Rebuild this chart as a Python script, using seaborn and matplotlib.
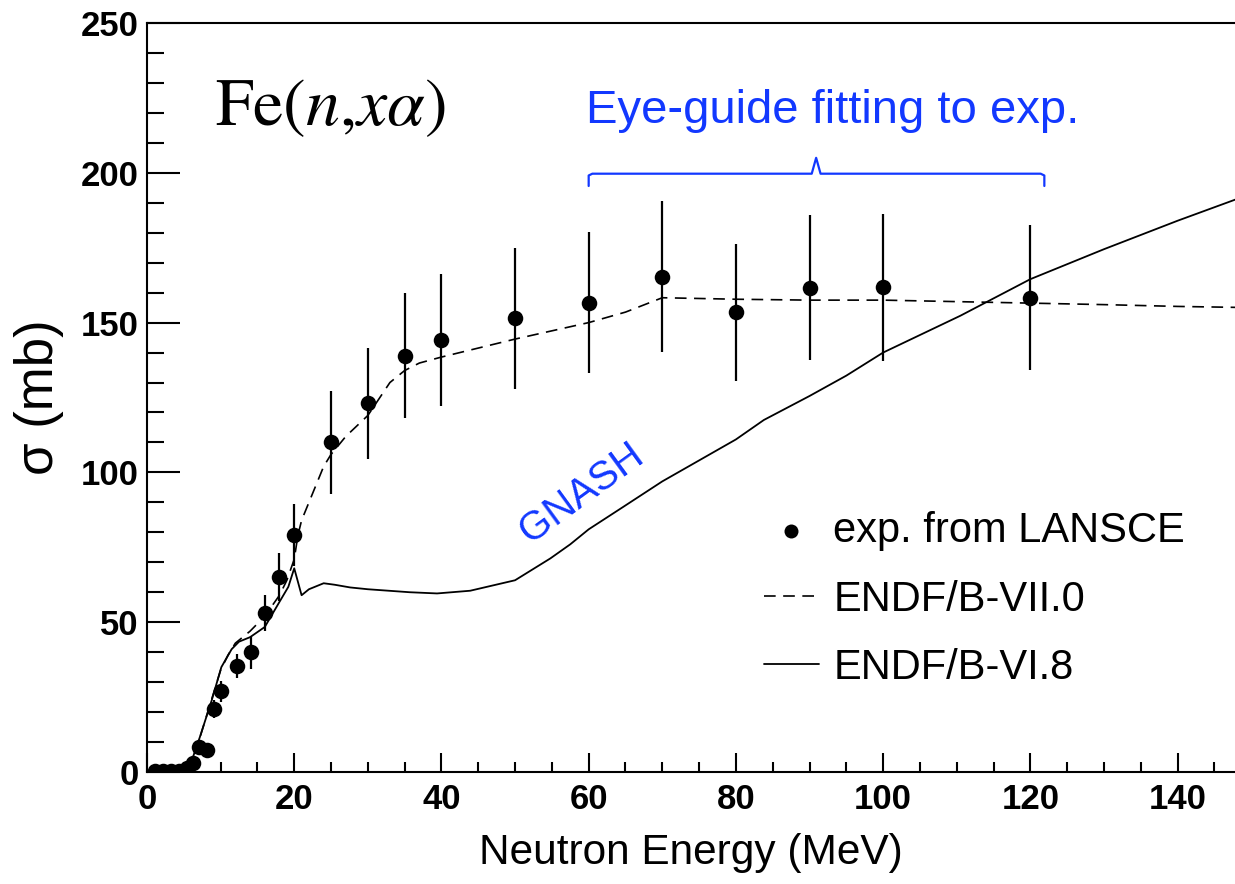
import numpy as np
import pandas as pd
import matplotlib
matplotlib.use("Agg")
import matplotlib.pyplot as plt
from matplotlib.ticker import MultipleLocator
import seaborn as sns

# experimental points (LANSCE)
exp_e = [1.1, 2.2, 3.3, 4.4, 5.4, 6.3, 7.1, 8.2, 9.1, 10.1, 12.2, 14.1, 16.0, 17.9, 20.0,
         25, 30, 35, 40, 50, 60, 70, 80, 90, 100, 120]
exp_xs = [0.2, 0.2, 0.2, 0.3, 1.5, 3.0, 8.4, 7.3, 21.0, 27.0, 35.3, 40.0, 53.0, 65.0, 79.0,
          110.0, 123.0, 139.0, 144.2, 151.5, 156.6, 165.3, 153.4, 161.7, 161.8, 158.3]
exp_err = [0, 0, 0, 0, 0.5, 1.0, 1.5, 1.5, 3.0, 3.5, 4.0, 5.5, 6.0, 8.0, 10.4,
           17.3, 18.5, 20.8, 22.0, 23.5, 23.5, 25.2, 23.0, 24.2, 24.6, 24.2]

# ENDF/B-VII.0 (dashed)
e7_e = [0, 5, 6, 7, 8, 9, 10, 11, 12, 14, 15, 16, 17, 18, 19, 20, 20.5, 21, 22, 23, 24, 25,
        27, 30, 33, 35, 37, 40, 50, 60, 65, 70, 80, 90, 100, 110, 120, 130, 140, 150]
e7_xs = [0, 0.3, 3, 10, 18, 26, 34, 39, 43, 47, 49.5, 52, 55.5, 59, 64, 71, 79, 84, 90, 96, 102, 106,
         112, 119, 130, 134, 136.5, 138.5, 144.5, 150, 153.5, 158.3, 157.8, 157.5, 157.5, 157,
         156.5, 156, 155.4, 155]

# ENDF/B-VI.8 (solid)
e6_e = [0, 5, 5.8, 7.2, 8.8, 10.1, 11.5, 12.5, 14, 16, 18, 19.2, 20, 21, 22, 24, 25.5, 27.6, 30,
        35.7, 39.4, 43.9, 50, 54.8, 57.5, 60, 64.7, 70, 75, 80, 83.8, 90, 95, 100, 110.5, 120,
        130, 140, 150]
e6_xs = [0, 0.2, 1.8, 11.8, 24, 35, 41, 43.5, 45, 48.4, 56.8, 61.8, 68, 59, 61, 63, 62.5, 61.6, 61,
         60, 59.6, 60.5, 64, 71.3, 76, 81, 88.5, 97, 104, 111, 117.5, 125.5, 132.3, 140, 152.3,
         164.5, 174.5, 184, 193]

labels = ["exp. from LANSCE", "ENDF/B-VII.0", "ENDF/B-VI.8"]
blue = "#1238ff"

sns.set_style("ticks")
plt.rcParams["font.family"] = ["Liberation Sans", "DejaVu Sans"]
plt.rcParams["mathtext.fontset"] = "stix"
for key in ["text.color", "axes.labelcolor", "xtick.color", "ytick.color", "axes.edgecolor"]:
    plt.rcParams[key] = "black"

fig = plt.figure(figsize=(12.35, 8.84), dpi=100)
ax = fig.add_axes([147 / 1235, 112 / 884, 1088 / 1235, 749 / 884])

df7 = pd.DataFrame({"E": e7_e, "xs": e7_xs})
df6 = pd.DataFrame({"E": e6_e, "xs": e6_xs})
dfx = pd.DataFrame({"E": exp_e, "xs": exp_xs, "err": exp_err})

ax.errorbar(dfx["E"], dfx["xs"], yerr=dfx["err"], fmt="none", ecolor="black", elinewidth=1.6, capsize=0)
sns.lineplot(data=df7, x="E", y="xs", ax=ax, color="black", lw=1.2, sort=False,
             estimator=None, label=labels[1], dashes=False, linestyle=(0, (7, 4.5)))
sns.lineplot(data=df6, x="E", y="xs", ax=ax, color="black", lw=1.3, sort=False,
             estimator=None, label=labels[2])
sns.scatterplot(data=dfx, x="E", y="xs", ax=ax, color="black", s=125, linewidth=0,
                label=labels[0], zorder=5)

ax.set_xlim(0, 147.8)
ax.set_ylim(0, 250)
ax.xaxis.set_major_locator(MultipleLocator(20))
ax.xaxis.set_minor_locator(MultipleLocator(5))
ax.yaxis.set_major_locator(MultipleLocator(50))
ax.yaxis.set_minor_locator(MultipleLocator(10))
ax.tick_params(which="both", direction="in", top=False, right=False, width=1.5, colors="black")
ax.tick_params(axis="y", which="major", length=24, pad=6)
ax.tick_params(axis="y", which="minor", length=12)
ax.tick_params(axis="x", which="major", length=14, pad=8)
ax.tick_params(axis="x", which="minor", length=7)
for lab in ax.get_xticklabels() + ax.get_yticklabels():
    lab.set_fontsize(25)
    lab.set_fontweight("bold")
for side in ["left", "bottom", "top"]:
    ax.spines[side].set_linewidth(1.5)
    ax.spines[side].set_color("black")
ax.spines["right"].set_visible(False)

ax.set_xlabel("Neutron Energy (MeV)", fontsize=30.5, labelpad=12)
ax.set_ylabel("σ (mb)", fontsize=38, labelpad=12)

# annotations
ax.text(9.2, 216, r"$\mathrm{Fe}(n{,}x\alpha)$", fontsize=49, ha="left", va="baseline")
ax.text(93.2, 216.5, "Eye-guide fitting to exp.", fontsize=34, color=blue, ha="center", va="baseline")
ax.text(59, 93, "GNASH", fontsize=29, color=blue, rotation=36, ha="center", va="center",
        rotation_mode="anchor")

brace_l, brace_r, brace_c = 60, 121.9, 90.9
brace_y, brace_lo, brace_hi = 199.7, 195.6, 205.0
ax.plot([brace_l, brace_l, brace_l + 0.5, brace_c - 0.6, brace_c, brace_c + 0.6, brace_r - 0.5, brace_r, brace_r],
        [brace_lo, brace_y - 0.6, brace_y, brace_y, brace_hi, brace_y, brace_y, brace_y - 0.6, brace_lo],
        color=blue, lw=1.6, solid_joinstyle="round")

h, l = ax.get_legend_handles_labels()
order = [l.index(s) for s in labels]
ax.legend([h[i] for i in order], [l[i] for i in order], loc="upper left",
          bbox_to_anchor=(0.533, 0.398), frameon=False, fontsize=30,
          handlelength=1.3, handletextpad=0.35, labelspacing=0.68, markerscale=0.9)

fig.savefig("out.png", dpi=100)
